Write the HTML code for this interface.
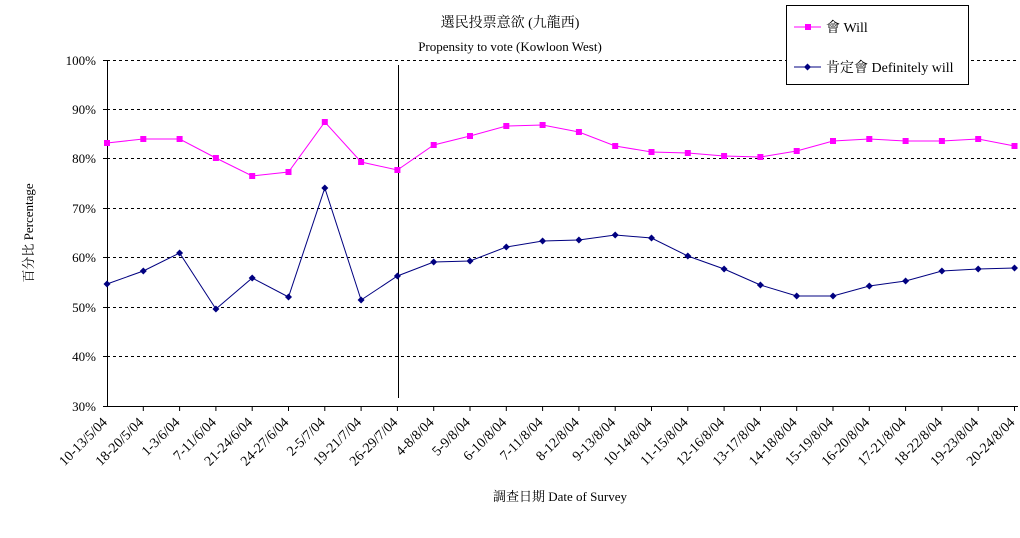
<!DOCTYPE html>
<html><head><meta charset="utf-8"><style>
body{margin:0;background:#fff}
text{font-family:"Liberation Serif","Noto Serif CJK SC","Noto Sans CJK TC",serif;fill:#000}
</style></head><body>
<svg width="1020" height="533" xmlns="http://www.w3.org/2000/svg">
<rect width="1020" height="533" fill="#fff"/>
<text x="510" y="27" font-size="14" text-anchor="middle">選民投票意欲 (九龍西)</text>
<text x="510" y="51" font-size="13" text-anchor="middle">Propensity to vote (Kowloon West)</text>
<g stroke="#000" stroke-dasharray="3,3" stroke-width="1">
<line x1="107" y1="60.5" x2="1018" y2="60.5"/>
<line x1="107" y1="109.5" x2="1018" y2="109.5"/>
<line x1="107" y1="158.5" x2="1018" y2="158.5"/>
<line x1="107" y1="208.5" x2="1018" y2="208.5"/>
<line x1="107" y1="257.5" x2="1018" y2="257.5"/>
<line x1="107" y1="307.5" x2="1018" y2="307.5"/>
<line x1="107" y1="356.5" x2="1018" y2="356.5"/>
</g>
<g stroke="#000" stroke-width="1">
<line x1="107.5" y1="60" x2="107.5" y2="406"/>
<line x1="107" y1="406.5" x2="1018" y2="406.5"/>
<line x1="398.5" y1="65" x2="398.5" y2="398"/>
<line x1="103" y1="60.5" x2="107" y2="60.5"/><line x1="103" y1="109.5" x2="107" y2="109.5"/><line x1="103" y1="158.5" x2="107" y2="158.5"/><line x1="103" y1="208.5" x2="107" y2="208.5"/><line x1="103" y1="257.5" x2="107" y2="257.5"/><line x1="103" y1="307.5" x2="107" y2="307.5"/><line x1="103" y1="356.5" x2="107" y2="356.5"/><line x1="103" y1="406.5" x2="107" y2="406.5"/>
</g>
<g font-size="13" text-anchor="end">
<text x="96" y="65">100%</text><text x="96" y="114">90%</text><text x="96" y="163">80%</text><text x="96" y="213">70%</text><text x="96" y="262">60%</text><text x="96" y="312">50%</text><text x="96" y="361">40%</text><text x="96" y="411">30%</text>
</g>
<text transform="translate(33,233) rotate(-90)" font-size="13" text-anchor="middle">百分比 Percentage</text>
<text x="560" y="501" font-size="13" text-anchor="middle">調查日期 Date of Survey</text>
<g id="ticks" stroke="#000"></g>
<g id="labels" font-size="14" text-anchor="end"></g>
<polyline id="will" fill="none" stroke="#ff00ff" stroke-width="1"/>
<polyline id="def" fill="none" stroke="#000080" stroke-width="1"/>
<g id="wm" fill="#ff00ff"></g>
<g id="dm" fill="#000080"></g>
<rect x="786.5" y="5.5" width="182" height="79" fill="#fff" stroke="#000"/>
<line x1="794" y1="27" x2="821" y2="27" stroke="#ff00ff"/><rect x="805" y="24" width="6" height="6" fill="#ff00ff"/>
<text x="826" y="32" font-size="14">會 Will</text>
<line x1="794" y1="67" x2="821" y2="67" stroke="#000080"/><path d="M807.5 63.5L811 67L807.5 70.5L804 67Z" fill="#000080"/>
<text x="826" y="72" font-size="14">肯定會 Definitely will</text>
</svg>
<script>
var labels=["10-13/5/04","18-20/5/04","1-3/6/04","7-11/6/04","21-24/6/04","24-27/6/04","2-5/7/04","19-21/7/04","26-29/7/04","4-8/8/04","5-9/8/04","6-10/8/04","7-11/8/04","8-12/8/04","9-13/8/04","10-14/8/04","11-15/8/04","12-16/8/04","13-17/8/04","14-18/8/04","15-19/8/04","16-20/8/04","17-21/8/04","18-22/8/04","19-23/8/04","20-24/8/04"];
var w=[143,139,139,158,176,172,122,162,170,145,136,126,125,132,146,152,153,156,157,151,141,139,141,141,139,146];
var d=[284,271,253,309,278,297,188,300,276,262,261,247,241,240,235,238,256,269,285,296,296,286,281,271,269,268];
var ns="http://www.w3.org/2000/svg",wp=[],dp=[];
function el(t,a,p){var e=document.createElementNS(ns,t);for(var k in a)e.setAttribute(k,a[k]);document.getElementById(p).appendChild(e);return e;}
for(var i=0;i<26;i++){var x=107+i*36.3;wp.push(x+","+w[i]);dp.push(x+","+d[i]);
if(i>0)el("line",{x1:x,y1:406,x2:x,y2:411},"ticks");
var t=el("text",{transform:"translate("+(x+1)+",423) rotate(-45)"},"labels");t.textContent=labels[i];
el("rect",{x:x-3,y:w[i]-3,width:6,height:6},"wm");
el("path",{d:"M"+x+" "+(d[i]-3.5)+"L"+(x+3.5)+" "+d[i]+"L"+x+" "+(d[i]+3.5)+"L"+(x-3.5)+" "+d[i]+"Z"},"dm");}
document.getElementById("will").setAttribute("points",wp.join(" "));
document.getElementById("def").setAttribute("points",dp.join(" "));
</script>
</body></html>
